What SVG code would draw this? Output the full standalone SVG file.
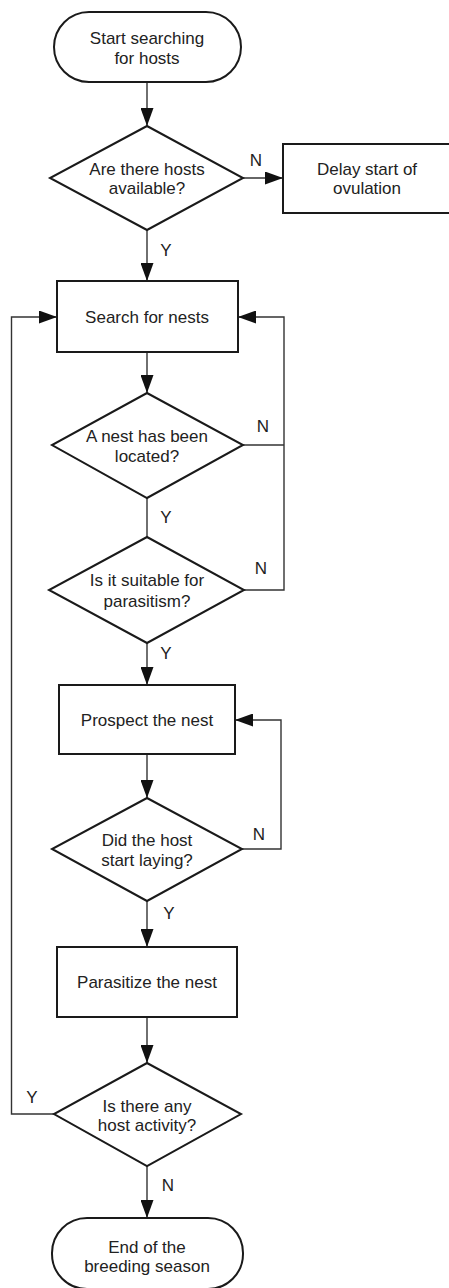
<svg xmlns="http://www.w3.org/2000/svg" width="449" height="1288" viewBox="0 0 449 1288">
<style>
.shape{fill:#fff;stroke:#1a1a1a;stroke-width:2}
.conn{fill:none;stroke:#333;stroke-width:1.4}
text{font-family:"Liberation Sans",Arial,sans-serif;font-size:17px;fill:#222;text-anchor:middle}
</style>
<defs>
<marker id="arr" viewBox="0 0 18 13" refX="18" refY="6.5" markerWidth="18" markerHeight="13" markerUnits="userSpaceOnUse" orient="auto">
<path d="M0,0 L18,6.5 L0,13 z" fill="#111"/>
</marker>
</defs>
<rect width="449" height="1288" fill="#fff"/>
<g id="connectors">
<path class="conn" d="M147,82 V126" marker-end="url(#arr)"/>
<path class="conn" d="M243,178 H283" marker-end="url(#arr)"/>
<path class="conn" d="M147,230 V281" marker-end="url(#arr)"/>
<path class="conn" d="M147,352 V393" marker-end="url(#arr)"/>
<path class="conn" d="M243,445 H284"/>
<path class="conn" d="M244,590 H284 V317 H238" marker-end="url(#arr)"/>
<path class="conn" d="M147,498 V537"/>
<path class="conn" d="M147,643 V685" marker-end="url(#arr)"/>
<path class="conn" d="M147,754 V798" marker-end="url(#arr)"/>
<path class="conn" d="M242,849 H281 V720 H235" marker-end="url(#arr)"/>
<path class="conn" d="M147,901 V947" marker-end="url(#arr)"/>
<path class="conn" d="M147,1017 V1063" marker-end="url(#arr)"/>
<path class="conn" d="M54,1114 H11.5 V317 H57" marker-end="url(#arr)"/>
<path class="conn" d="M147,1166 V1218" marker-end="url(#arr)"/>
<text x="256" y="166">N</text>
<text x="166" y="256">Y</text>
<text x="263" y="432">N</text>
<text x="166" y="523">Y</text>
<text x="261" y="574">N</text>
<text x="166" y="659">Y</text>
<text x="259" y="840">N</text>
<text x="169" y="919">Y</text>
<text x="32" y="1103">Y</text>
<text x="168" y="1191">N</text>
</g>
<g id="start">
<rect class="shape" x="54" y="12" width="187" height="70" rx="35" ry="35"/>
<text x="147" y="44">Start searching</text>
<text x="147" y="64">for hosts</text>
</g>
<g id="hosts-available">
<polygon class="shape" points="147,126 243,178 147,230 50,178"/>
<text x="147" y="175">Are there hosts</text>
<text x="147" y="194">available?</text>
</g>
<g id="delay">
<rect class="shape" x="283" y="144" width="172" height="69"/>
<text x="367" y="175">Delay start of</text>
<text x="367" y="194">ovulation</text>
</g>
<g id="search">
<rect class="shape" x="57" y="281" width="181" height="71"/>
<text x="147" y="323">Search for nests</text>
</g>
<g id="nest-located">
<polygon class="shape" points="147,393 243,445 147,498 52,445"/>
<text x="147" y="442">A nest has been</text>
<text x="147" y="462">located?</text>
</g>
<g id="suitable">
<polygon class="shape" points="147,537 244,590 147,643 49,590"/>
<text x="147" y="586">Is it suitable for</text>
<text x="147" y="607">parasitism?</text>
</g>
<g id="prospect">
<rect class="shape" x="59" y="685" width="176" height="69"/>
<text x="147" y="726">Prospect the nest</text>
</g>
<g id="host-laying">
<polygon class="shape" points="147,798 242,849 147,901 52,849"/>
<text x="147" y="846">Did the host</text>
<text x="147" y="866">start laying?</text>
</g>
<g id="parasitize">
<rect class="shape" x="57" y="947" width="180" height="70"/>
<text x="147" y="988">Parasitize the nest</text>
</g>
<g id="host-activity">
<polygon class="shape" points="147,1063 241,1114 147,1166 54,1114"/>
<text x="147" y="1112">Is there any</text>
<text x="147" y="1131">host activity?</text>
</g>
<g id="end">
<rect class="shape" x="52" y="1218" width="191" height="71" rx="35" ry="35"/>
<text x="147" y="1253">End of the</text>
<text x="147" y="1272">breeding season</text>
</g>
</svg>
